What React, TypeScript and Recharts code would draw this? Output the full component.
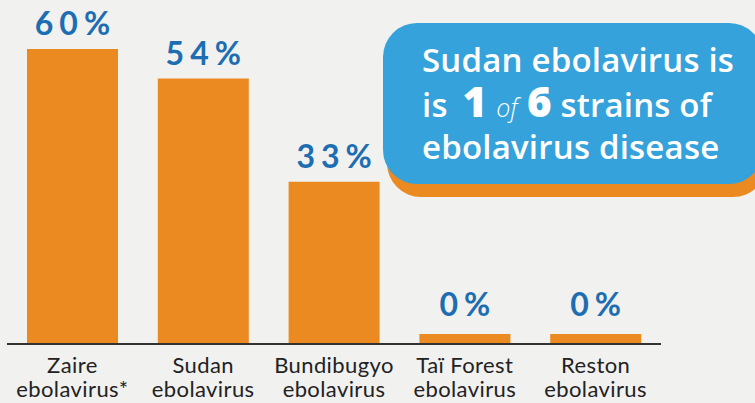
import React from "react";
import { BarChart, Bar, XAxis, YAxis, LabelList } from "recharts";

// Case fatality by strain (as printed on the bars)
const strainNames = ["Zaire", "Sudan", "Bundibugyo", "Taï Forest", "Reston"];
const strainSuffix = ["ebolavirus*", "ebolavirus", "ebolavirus", "ebolavirus", "ebolavirus"];
const fatalityPct = [60, 54, 33, 0, 0];

const data = strainNames.map((name, i) => ({
  name,
  suffix: strainSuffix[i],
  pct: fatalityPct[i],
}));

const ORANGE = "#ec8a22";
const BLUE_TEXT = "#1c6db2";
const BLUE_BOX = "#36a2db";

const StrainTick = (props: any) => {
  const { x, y, payload, index } = props;
  return (
    <text
      x={x}
      y={y}
      textAnchor="middle"
      fill="#222"
      fontSize={22}
      letterSpacing={0.4}
      fontFamily="Lato, 'Open Sans', sans-serif"
    >
      <tspan x={x} dy={21}>{payload.value}</tspan>
      <tspan x={x} dy={24}>{strainSuffix[index]}</tspan>
    </text>
  );
};

// value label, a little higher above the stub bars
const PctLabel = (props: any) => {
  const { x, y, width, value } = props;
  const gap = value === 0 ? 18 : 14;
  return (
    <text
      x={x + width / 2 + 3}
      y={y - gap}
      textAnchor="middle"
      fill={BLUE_TEXT}
      fontSize={32}
      fontWeight={700}
      letterSpacing={6}
      fontFamily="Lato, 'Open Sans', sans-serif"
    >
      {`${value}%`}
    </text>
  );
};

function Callout() {
  const font = "'Open Sans', Lato, sans-serif";
  return (
    <>
      <div
        style={{
          position: "absolute",
          left: 387,
          top: 36,
          width: 380,
          height: 161,
          borderRadius: 34,
          background: ORANGE,
        }}
      />
      <div
        style={{
          position: "absolute",
          left: 383,
          top: 23,
          width: 380,
          height: 161,
          borderRadius: 34,
          background: BLUE_BOX,
        }}
      />
      <div
        style={{
          position: "absolute",
          left: 422,
          top: 40,
          color: "#fff",
          fontFamily: font,
          fontWeight: 600,
          fontSize: 33,
          letterSpacing: 0.2,
          lineHeight: "40.5px",
          whiteSpace: "nowrap",
        }}
      >
        <div>Sudan ebolavirus is</div>
        <div>
          is{" "}
          <span style={{ fontSize: 42, fontWeight: 800, marginLeft: 6 }}>1</span>
          <span style={{ fontSize: 25, fontWeight: 300, fontStyle: "italic", margin: "0 9px" }}>of</span>
          <span style={{ fontSize: 42, fontWeight: 800 }}>6</span> strains of
        </div>
        <div>ebolavirus disease</div>
      </div>
    </>
  );
}

export default function App() {
  return (
    <div
      style={{
        position: "fixed",
        left: 0,
        top: 0,
        width: 755,
        height: 403,
        background: "#f1f1f0",
        overflow: "hidden",
      }}
    >
      <BarChart
        width={755}
        height={403}
        data={data}
        margin={{ top: 49, right: 94, bottom: 0, left: 7 }}
      >
        <XAxis
          dataKey="name"
          axisLine={{ stroke: "#333", strokeWidth: 2 }}
          tickLine={false}
          interval={0}
          height={59}
          tick={<StrainTick />}
        />
        <YAxis hide domain={[0, 60]} />
        <Bar
          dataKey="pct"
          fill={ORANGE}
          barSize={91}
          minPointSize={10}
          isAnimationActive={false}
        >
          <LabelList dataKey="pct" content={<PctLabel />} />
        </Bar>
      </BarChart>
      <Callout />
    </div>
  );
}
